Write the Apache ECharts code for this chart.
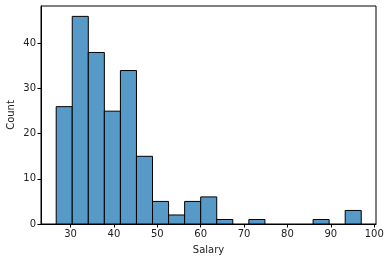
<!DOCTYPE html>
<html><head><meta charset="utf-8">
<script src="https://cdn.jsdelivr.net/npm/echarts@6/dist/echarts.min.js"></script>
<style>html,body{margin:0;padding:0;background:#fff}#c{width:390px;height:262px}</style>
</head><body><div id="c"></div>
<script>
const binEdges = [26.7, 30.4, 34.1, 37.8, 41.5, 45.2, 48.9, 52.6, 56.3, 60.0, 63.7, 67.4, 71.1, 74.8, 78.5, 82.2, 85.9, 89.6, 93.3, 97.0];
const counts = [26, 46, 38, 25, 34, 15, 5, 2, 5, 6, 1, 0, 1, 0, 0, 0, 1, 0, 3];
const xTicks = [30, 40, 50, 60, 70, 80, 90, 100];
const yTicks = [0, 10, 20, 30, 40];

const data = counts.map((c, i) => [binEdges[i], binEdges[i + 1], c]);
const font = 'DejaVu Sans';
const chart = echarts.init(document.getElementById('c'), null, {renderer: 'canvas'});
chart.setOption({
  animation: false,
  grid: {left: 41, right: 14, top: 6, bottom: 38, containLabel: false, outerBoundsMode: 'none', show: true, borderColor: '#000', borderWidth: 1, backgroundColor: 'transparent'},
  xAxis: {
    type: 'value', min: 23.2, max: 100.4,
    name: 'Salary', nameLocation: 'middle', nameGap: 21, nameMoveOverlap: false,
    nameTextStyle: {fontFamily: font, fontSize: 10, color: '#222'},
    axisLine: {show: true, onZero: false, lineStyle: {color: '#000', width: 1}},
    axisTick: {show: true, length: 3.5, lineStyle: {color: '#000'}, customValues: xTicks},
    axisLabel: {fontFamily: font, fontSize: 10, color: '#222', margin: 5, customValues: xTicks},
    splitLine: {show: false}
  },
  yAxis: {
    type: 'value', min: 0, max: 48.3,
    name: 'Count', nameLocation: 'middle', nameGap: 25, nameMoveOverlap: false,
    nameTextStyle: {fontFamily: font, fontSize: 10, color: '#222'},
    axisLine: {show: true, lineStyle: {color: '#000', width: 1}},
    axisTick: {show: true, length: 3.5, lineStyle: {color: '#000'}, customValues: yTicks},
    axisLabel: {fontFamily: font, fontSize: 10, color: '#222', margin: 5, customValues: yTicks},
    splitLine: {show: false}
  },
  series: [{
    type: 'custom',
    data: data,
    encode: {x: [0, 1], y: 2},
    renderItem: function (params, api) {
      const c = api.value(2);
      if (!c) return null;
      const p0 = api.coord([api.value(0), c]);
      const p1 = api.coord([api.value(1), 0]);
      return {
        type: 'rect',
        shape: {x: p0[0], y: p0[1], width: p1[0] - p0[0], height: p1[1] - p0[1]},
        style: {fill: 'rgb(87,153,199)', stroke: '#000', lineWidth: 1}
      };
    }
  }]
});
</script></body></html>
